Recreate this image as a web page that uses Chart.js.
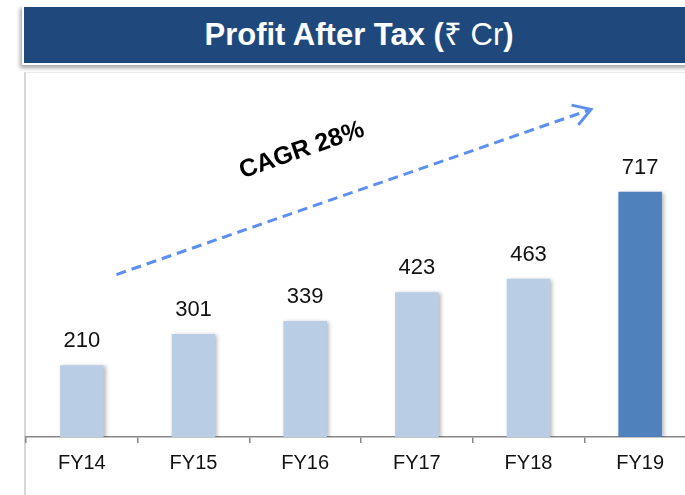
<!DOCTYPE html>
<html>
<head>
<meta charset="utf-8">
<script src="https://cdn.jsdelivr.net/npm/chart.js@4"></script>
<style>
  html, body { margin: 0; padding: 0; background: #fff; overflow: hidden; width: 685px; height: 495px; }
  body { position: relative; font-family: 'Liberation Sans', Arial, sans-serif; }
  .banner {
    position: absolute; left: 22px; top: 5px; width: 690px; height: 56px;
    background: #1f497d; border: 2px solid #fff;
    box-shadow: -2px 3px 4px rgba(0,0,0,0.35);
    color: #fff; font-weight: bold; font-size: 31px;
    line-height: 56px; text-align: center; box-sizing: content-box;
  }
  .banner span { display: inline-block; transform: translateX(-10px); }
  .banner .thin { font-weight: normal; transform: none; }
  .panel {
    position: absolute; left: 24px; top: 72px; width: 700px; height: 440px;
    border-left: 2px solid #d6d6d6; border-top: 1px solid #ececec;
  }
  #wrap { position: absolute; left: 0; top: 0; width: 700px; height: 495px; }
</style>
</head>
<body>
<div class="panel"></div>
<div class="banner"><span>Profit After Tax (<span class="thin">₹ Cr</span>)</span></div>
<div id="wrap"><canvas id="pat" width="700" height="495"></canvas></div>
<script>
// ── Data ──
const years = ['FY14', 'FY15', 'FY16', 'FY17', 'FY18', 'FY19'];
const profit = [210, 301, 339, 423, 463, 717];
const cagrLabel = 'CAGR 28%';

const lightBar = '#b9cde5';
const darkBar = '#4f81bd';
const arrowColor = '#5c8ff0';

// bar shadow, like the slide's drop shadow
const barShadow = {
  id: 'barShadow',
  beforeDatasetsDraw(chart) {
    const ctx = chart.ctx;
    ctx.save();
    ctx.shadowColor = 'rgba(0,0,0,0.28)';
    ctx.shadowBlur = 4;
    ctx.shadowOffsetX = 2;
    ctx.shadowOffsetY = 1;
  },
  afterDatasetsDraw(chart) {
    chart.ctx.restore();
  }
};

// value labels above bars
const valueLabels = {
  id: 'valueLabels',
  afterDraw(chart) {
    const ctx = chart.ctx;
    const meta = chart.getDatasetMeta(0);
    ctx.save();
    ctx.fillStyle = '#111';
    ctx.font = '22px "Liberation Sans", Arial, sans-serif';
    ctx.textAlign = 'center';
    ctx.textBaseline = 'alphabetic';
    meta.data.forEach((bar, i) => {
      ctx.fillText(profit[i], bar.x, bar.y - 18);
    });
    ctx.restore();
  }
};

// dashed CAGR arrow + rotated label, placed in data space
const cagrArrow = {
  id: 'cagrArrow',
  afterDraw(chart) {
    const xs = chart.scales.x, ys = chart.scales.y;
    const step = xs.getPixelForValue(1) - xs.getPixelForValue(0);
    const px = idx => xs.getPixelForValue(0) + idx * step;
    const x1 = px(0.31), y1 = ys.getPixelForValue(475);
    const x2 = px(4.56), y2 = ys.getPixelForValue(958);
    const ang = Math.atan2(y2 - y1, x2 - x1);
    const ctx = chart.ctx;
    ctx.save();
    ctx.strokeStyle = arrowColor;
    ctx.lineWidth = 3;
    ctx.setLineDash([10, 6]);
    ctx.beginPath();
    ctx.moveTo(x1, y1);
    ctx.lineTo(x2 - 3 * Math.cos(ang), y2 - 3 * Math.sin(ang));
    ctx.stroke();
    ctx.setLineDash([]);
    ctx.lineJoin = 'miter';
    const head = 20, spread = 0.55;
    ctx.beginPath();
    ctx.moveTo(x2 - head * Math.cos(ang - spread), y2 - head * Math.sin(ang - spread));
    ctx.lineTo(x2, y2);
    ctx.lineTo(x2 - head * Math.cos(ang + spread), y2 - head * Math.sin(ang + spread));
    ctx.stroke();

    // label
    const tx = px(1.97), ty = ys.getPixelForValue(838);
    ctx.translate(tx, ty);
    ctx.rotate(ang);
    ctx.fillStyle = '#000';
    ctx.font = 'bold 25px "Liberation Sans", Arial, sans-serif';
    ctx.textAlign = 'center';
    ctx.textBaseline = 'middle';
    ctx.fillText(cagrLabel, 0, 0);
    ctx.restore();
  }
};

new Chart(document.getElementById('pat'), {
  type: 'bar',
  data: {
    labels: years,
    datasets: [{
      data: profit,
      backgroundColor: profit.map((_, i) => i === profit.length - 1 ? darkBar : lightBar),
      borderWidth: 0,
      barPercentage: 0.39,
      categoryPercentage: 1
    }]
  },
  options: {
    responsive: false,
    animation: false,
    events: [],
    layout: { padding: { left: 26, right: 4, top: 95, bottom: 0 } },
    plugins: { legend: { display: false }, tooltip: { enabled: false } },
    scales: {
      x: {
        afterFit(scale) { scale.height = 58; },
        border: { display: true, color: '#878787', width: 1.5 },
        grid: { display: true, drawOnChartArea: false, drawTicks: true, tickLength: 6, offset: true, color: '#878787', lineWidth: 1.5 },
        ticks: { color: '#111', padding: 8, font: { family: '"Liberation Sans", Arial, sans-serif', size: 20 } }
      },
      y: { display: false, min: 0, max: 1000 }
    }
  },
  plugins: [barShadow, valueLabels, cagrArrow]
});
</script>
</body>
</html>
